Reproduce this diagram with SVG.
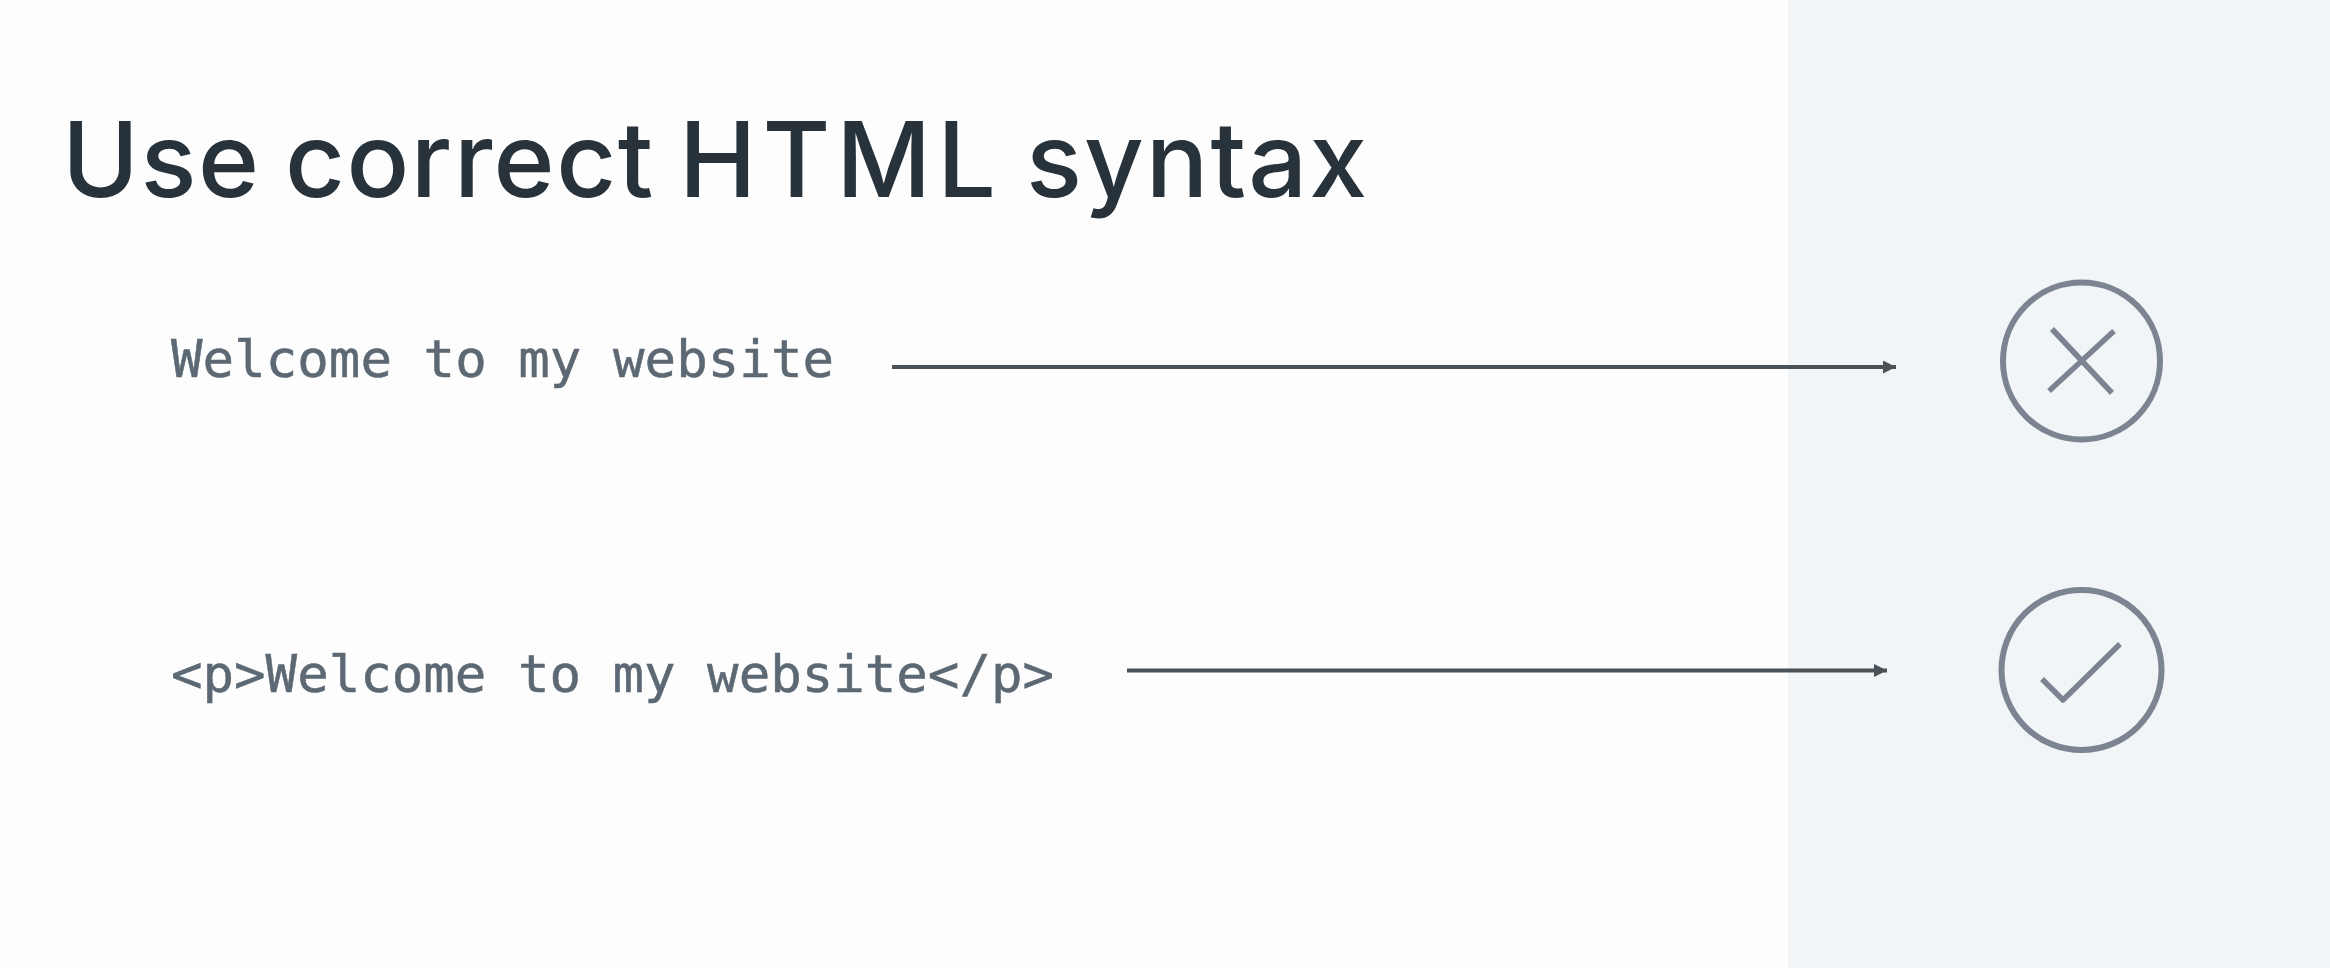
<svg xmlns="http://www.w3.org/2000/svg" width="2330" height="968" viewBox="0 0 2330 968">
  <style>
    .code { font-family: "DejaVu Sans Mono", "Liberation Mono", monospace; font-size: 52.4px; fill: #5c6873; stroke: #5c6873; stroke-width: 0.5px; }
    .title { font-family: Inter, "Noto Sans", sans-serif; font-weight: 500; font-size: 104px; fill: #27323a; }
    .ring { fill: none; stroke: #7b8490; stroke-width: 6; }
    .mark { fill: none; stroke: #7b8490; stroke-width: 5.5; stroke-linejoin: round; }
    .conn { stroke: #4a5157; stroke-width: 4; fill: none; marker-end: url(#arrow); }
  </style>
  <defs>
    <marker id="arrow" markerUnits="userSpaceOnUse" markerWidth="14" markerHeight="14" refX="13" refY="6.5" orient="auto">
      <path d="M0 0L13 6.5L0 13Z" fill="#4a5157"/>
    </marker>
  </defs>
  <rect id="background" width="2330" height="968" fill="#fdfdfe"/>
  <rect id="panel" x="1788" y="0" width="542" height="968" fill="#f1f5f8"/>
  <g id="title"><text class="title" y="197"><tspan x="62" letter-spacing="1.5">Use</tspan> <tspan x="285" letter-spacing="1.5">correct</tspan> <tspan x="679" letter-spacing="6">HTML</tspan> <tspan x="1026" letter-spacing="2">syntax</tspan></text></g>
  <g id="code-plain"><text class="code" x="171" y="377" textLength="663" lengthAdjust="spacing">Welcome to my website</text></g>
  <g id="code-tagged"><text class="code" x="171" y="692" textLength="883" lengthAdjust="spacing">&lt;p&gt;Welcome to my website&lt;/p&gt;</text></g>
  <g id="connectors">
    <line class="conn" x1="892" y1="367" x2="1896" y2="367"/>
    <line class="conn" x1="1127" y1="670.5" x2="1887" y2="670.5"/>
  </g>
  <g id="icon-cross">
    <circle class="ring" cx="2081.5" cy="361" r="78.5"/>
    <path class="mark" d="M2052 329L2112 393M2114 331L2049 391"/>
  </g>
  <g id="icon-check">
    <circle class="ring" cx="2081.5" cy="670" r="80"/>
    <path class="mark" d="M2042 679L2063 700L2120 644"/>
  </g>
</svg>
